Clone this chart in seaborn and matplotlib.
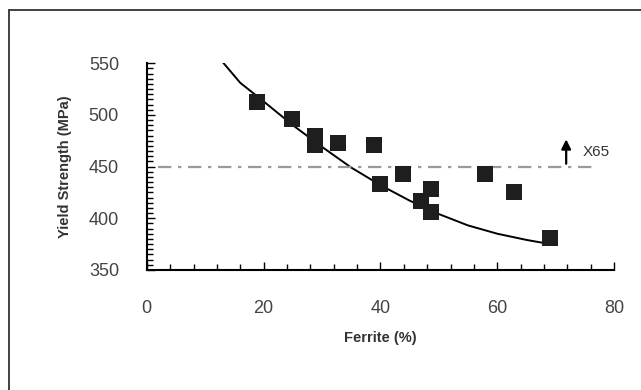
## Yield strength vs ferrite content

## Imports
import pandas as pd
import seaborn as sns
import matplotlib.pyplot as plt
from matplotlib.ticker import MultipleLocator

## Data
ferrite = [18.8, 24.8, 28.8, 28.8, 32.7, 38.9, 39.9, 43.9, 47.0, 48.7, 48.7, 57.9, 62.9, 69.0]
yield_strength = [512, 496, 480, 471, 473, 471, 433, 443, 417, 428, 406, 443, 425, 381]

# trend curve, points
curve_x = [13, 16, 20, 25, 30, 35, 40, 45, 50, 55, 60, 65, 68]
curve_y = [551, 531, 513, 490, 469, 449, 432, 417, 404, 393, 385, 379, 376]

x65_level = 450
x65_span = [2, 77]
x65_label = 'X65'

points = pd.DataFrame({'Ferrite': ferrite, 'YS': yield_strength})
curve = pd.DataFrame({'Ferrite': curve_x, 'YS': curve_y})

## Plot
sns.set_style('white')
plt.rcParams['font.family'] = ['Liberation Sans', 'DejaVu Sans']

fig = plt.figure(figsize=(6.41, 3.90), dpi=100)
ax = fig.add_axes([0.229, 0.308, 0.729, 0.530])

sns.lineplot(data=curve, x='Ferrite', y='YS', color='black', linewidth=1.4, ax=ax)
sns.scatterplot(data=points, x='Ferrite', y='YS', marker='s', s=120,
                color='#1e1e1e', edgecolor='#1e1e1e', linewidth=0, zorder=3, ax=ax)

ax.plot(x65_span, [x65_level, x65_level], color='#9a9a9a', linewidth=1.6,
        linestyle=(0, (6, 3, 1.5, 3)))
ax.annotate('', xy=(71.8, 479), xytext=(71.8, x65_level),
            arrowprops=dict(arrowstyle='-|>', color='black', lw=1.6, mutation_scale=14))
ax.text(74.6, 464, x65_label, fontsize=11, color='#333333', va='center')

ax.set_xlim(0, 80)
ax.set_ylim(350, 550)
ax.xaxis.set_major_locator(MultipleLocator(20))
ax.xaxis.set_minor_locator(MultipleLocator(4))
ax.yaxis.set_major_locator(MultipleLocator(50))
ax.yaxis.set_minor_locator(MultipleLocator(5))
ax.tick_params(axis='both', which='both', direction='in', color='black', width=1,
               bottom=True, left=True)
ax.tick_params(axis='both', which='major', length=6, labelsize=13, labelcolor='#444444')
ax.tick_params(axis='both', which='minor', length=4)
ax.tick_params(axis='x', which='major', pad=22)
ax.tick_params(axis='y', which='major', pad=20)

sns.despine(ax=ax)
for side in ['left', 'bottom']:
    ax.spines[side].set_color('black')
    ax.spines[side].set_linewidth(1.5)

ax.set_xlabel('Ferrite (%)', fontsize=10.5, fontweight='bold', color='#333333', labelpad=10)
ax.set_ylabel('Yield Strength (MPa)', fontsize=10.5, fontweight='bold', color='#333333', labelpad=12)

# frame lines on the left and top of the figure
fig.add_artist(plt.Line2D([0.014, 0.014], [0, 0.974], color='#333333', linewidth=1.3))
fig.add_artist(plt.Line2D([0.014, 1.0], [0.974, 0.974], color='#333333', linewidth=1.3))

plt.savefig('out.png', dpi=100)
plt.close()
